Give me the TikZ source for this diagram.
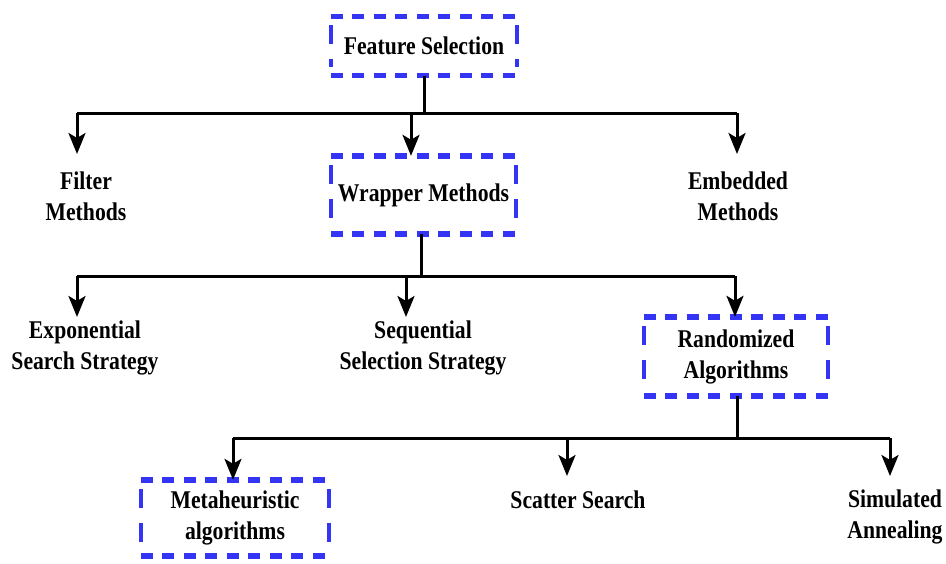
\documentclass[tikz,border=0pt]{standalone}
\usepackage{fontspec}
\newfontfamily\labelfont[FakeStretch=0.85]{Liberation Serif}
\usetikzlibrary{arrows.meta}
\definecolor{dashblue}{RGB}{52,52,245}
\tikzset{
  txt/.style={font=\labelfont\bfseries\fontsize{25.5}{31}\selectfont, align=center, text=black, inner sep=0pt},
  dbox/.style={txt},
  hdash/.style={draw=dashblue, line width=5.5pt, dash pattern=on 12pt off 9.5pt},
  vdash/.style={draw=dashblue, line width=3.5pt, dash pattern=on 19pt off 15pt},
  conn/.style={draw=black, line width=3pt},
  arr/.style={conn, -{Stealth[length=21pt,width=17pt,inset=5pt]}},
}
\begin{document}
\begin{tikzpicture}[x=1pt,y=-1pt]
\useasboundingbox (0,0) rectangle (946,563);

% boxed labels (outlines drawn below)
\node[dbox, minimum width=186pt, minimum height=59pt] (fs) at (424,46) {Feature Selection};
\node[dbox, minimum width=185pt, minimum height=78pt] (wrap) at (423.5,195) {Wrapper Methods};
\node[dbox, minimum width=184pt, minimum height=79pt] (rand) at (736,356.5) {Randomized\\Algorithms};
\node[dbox, minimum width=188pt, minimum height=76pt] (meta) at (235,518) {Metaheuristic\\algorithms};

% dashed outlines: thick short dashes on top and bottom, thinner long dashes on the sides
\foreach \b in {fs,wrap,rand,meta}{
  \draw[hdash] (\b.north west) -- (\b.north east);
  \draw[hdash] (\b.south west) -- (\b.south east);
  \draw[vdash] ([yshift=-9pt]\b.north west) -- ([yshift=9pt]\b.south west);
  \draw[vdash] ([yshift=-9pt]\b.north east) -- ([yshift=9pt]\b.south east);
}

% plain labels
\node[txt] (filter) at (86,196) {Filter\\Methods};
\node[txt] (embed) at (738,196) {Embedded\\Methods};
\node[txt] (expo) at (85,348) {Exponential\\Search Strategy};
\node[txt] (seq) at (423,348) {Sequential\\Selection Strategy};
\node[txt] (scat) at (578,500) {Scatter Search};
\node[txt] (sim) at (895,517) {Simulated\\Annealing};

% first level
\coordinate (j1) at (424,113);
\coordinate (j1L) at (77,113);
\coordinate (j1M) at (411,113);
\coordinate (j1R) at (737,113);
\draw[conn] (j1 |- fs.south) -- (j1);
\draw[conn] (j1L) -- (j1R);
\draw[arr] (j1L) -- ++(0,41);
\draw[arr] (j1M) -- (j1M |- wrap.north);
\draw[arr] (j1R) -- ++(0,41);

% second level
\coordinate (j2) at (421,276);
\coordinate (j2L) at (77,276);
\coordinate (j2M) at (406,276);
\coordinate (j2R) at (735,276);
\draw[conn] (j2 |- wrap.south) -- (j2);
\draw[conn] (j2L) -- (j2R);
\draw[arr] (j2L) -- ++(0,41);
\draw[arr] (j2M) -- ++(0,41);
\draw[arr] (j2R) -- (j2R |- rand.north);

% third level
\coordinate (j3) at (737,438);
\coordinate (j3L) at (233,438);
\coordinate (j3M) at (567,438);
\coordinate (j3R) at (890,438);
\draw[conn] (j3 |- rand.south) -- (j3);
\draw[conn] (j3L) -- (j3R);
\draw[arr] (j3L) -- (j3L |- meta.north);
\draw[arr] (j3M) -- ++(0,38);
\draw[arr] (j3R) -- ++(0,38);
\end{tikzpicture}
\end{document}
